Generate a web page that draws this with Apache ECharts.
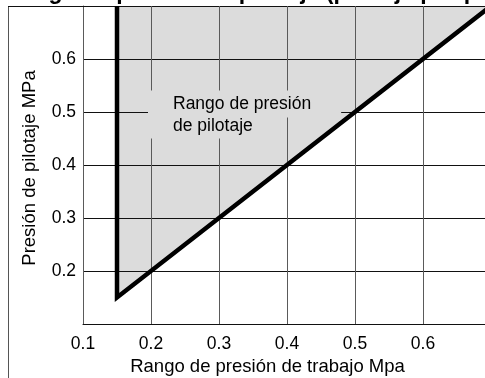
<!DOCTYPE html>
<html><head><meta charset="utf-8">
<script src="https://cdn.jsdelivr.net/npm/echarts@6/dist/echarts.min.js"></script>
<style>html,body{margin:0;padding:0;background:#fff}#c{width:485px;height:378px}</style>
</head><body><div id="c"></div>
<script>
const titleText = 'Rango de presión de pilotaje (pilotaje por presión)';
const xAxisName = 'Rango de presión de trabajo Mpa';
const yAxisName = 'Presión de pilotaje MPa';
const xTickLabels = ['0.1', '0.2', '0.3', '0.4', '0.5', '0.6'];
const yTickLabels = ['0.2', '0.3', '0.4', '0.5', '0.6'];
const boundaryX = [0.15, 0.15, 0.7];
const boundaryY = [0.7, 0.15, 0.7];
const diagonalX = [0.15, 0.7];
const diagonalY = [0.15, 0.7];
const regionLabel = ['Rango de presión', 'de pilotaje'];

const FONT = 'Liberation Sans, Arial, Helvetica, sans-serif';
const chart = echarts.init(document.getElementById('c'), null, {renderer: 'canvas'});

const zip = (xs, ys) => xs.map((x, i) => [x, ys[i]]);

chart.setOption({
  animation: false,
  backgroundColor: '#fff',
  grid: {left: 83, right: -6, top: 6, bottom: 54, containLabel: false, outerBoundsMode: 'none'},
  xAxis: {
    type: 'value', min: 0.1, max: 0.7, interval: 0.1,
    name: xAxisName, nameLocation: 'middle', nameGap: 33,
    nameTextStyle: {fontFamily: FONT, fontSize: 18.5, color: '#000', padding: [0, 39, 0, 0]},
    axisLine: {show: true, lineStyle: {color: '#111', width: 1}},
    axisTick: {show: false},
    axisLabel: {
      margin: 11, fontFamily: FONT, fontSize: 17.5, color: '#000',
      formatter: v => { const s = v.toFixed(1); return xTickLabels.includes(s) ? s : ''; }
    },
    splitLine: {show: true, lineStyle: {color: '#5a5a5a', width: 1}}
  },
  yAxis: {
    type: 'value', min: 0.1, max: 0.7, interval: 0.1,
    name: yAxisName, nameLocation: 'middle', nameGap: 44,
    nameTextStyle: {fontFamily: FONT, fontSize: 18.5, color: '#000', padding: [0, 6, 0, 0]},
    axisLine: {show: true, lineStyle: {color: '#5a5a5a', width: 1}},
    axisTick: {show: false},
    axisLabel: {
      margin: 7, fontFamily: FONT, fontSize: 17.5, color: '#000',
      formatter: v => { const s = v.toFixed(1); return yTickLabels.includes(s) ? s : ''; }
    },
    splitLine: {show: true, lineStyle: {color: '#111', width: 1}}
  },
  series: [
    {
      type: 'line', z: -1, symbol: 'none', silent: true,
      data: zip(diagonalX, diagonalY),
      lineStyle: {width: 0, opacity: 0},
      areaStyle: {origin: 'end', color: '#dcdcdc', opacity: 1}
    },
    {
      type: 'line', z: 5, symbol: 'none', silent: true,
      data: zip(boundaryX, boundaryY),
      lineStyle: {color: '#000', width: 4.5, join: 'miter', miterLimit: 10}
    }
  ],
  graphic: [
    {type: 'line', z: 10, silent: true, shape: {x1: 8.5, y1: 6, x2: 8.5, y2: 378}, style: {stroke: '#555', lineWidth: 1}},
    {type: 'line', z: 10, silent: true, shape: {x1: 8, y1: 6.5, x2: 84, y2: 6.5}, style: {stroke: '#111', lineWidth: 1}},
    {type: 'text', z: 10, silent: true, x: 5, y: -7.6,
      style: {text: titleText, font: 'bold 23px ' + FONT, fill: '#000', verticalAlign: 'middle', align: 'left'}},
    {type: 'text', z: 10, silent: true, x: 148, y: 104,
      style: {text: regionLabel[0], font: '17.5px ' + FONT, fill: '#000', verticalAlign: 'middle', align: 'left',
        backgroundColor: '#dcdcdc', padding: [5, 30, 5, 25], lineHeight: 17}},
    {type: 'text', z: 10, silent: true, x: 148, y: 126.4,
      style: {text: regionLabel[1], font: '17.5px ' + FONT, fill: '#000', verticalAlign: 'middle', align: 'left',
        backgroundColor: '#dcdcdc', padding: [5, 28, 2, 25], lineHeight: 17}}
  ]
});
</script></body></html>
